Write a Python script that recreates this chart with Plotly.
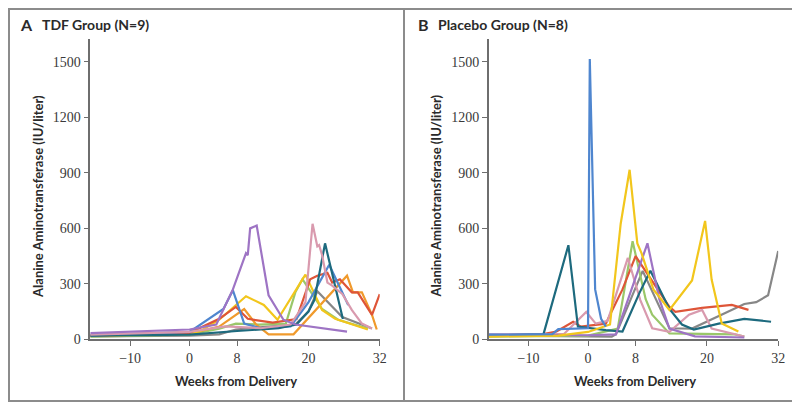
import plotly.graph_objects as go

W, H = 800, 405

# ---------------- data: TDF group (panel A) ----------------
tdf_purple_w = [-16.7, -8, 0, 4.5, 7.3, 9.5, 9.8, 10.2, 11.3, 13.3, 15.8, 17.8, 26.5]
tdf_purple_v = [33, 42, 53, 80, 270, 466, 455, 600, 615, 238, 106, 80, 42]
tdf_pink_w = [-16.7, 0, 6, 12, 17, 19.5, 20.7, 21.5, 21.8, 22.3, 23.2, 24, 25.7, 27.3, 29, 30.7]
tdf_pink_v = [25, 40, 70, 60, 80, 200, 625, 503, 510, 456, 307, 290, 245, 159, 85, 58]
tdf_teal_w = [-16.7, 0, 8, 15, 18, 20, 21, 22.8, 25.8]
tdf_teal_v = [20, 25, 45, 60, 80, 150, 212, 519, 110]
tdf_blue_w = [-16.7, 0, 5.7, 7.3, 9.2, 12, 17, 20, 23.5, 26.7]
tdf_blue_v = [20, 40, 164, 265, 85, 60, 70, 200, 403, 186]
tdf_red_w = [-16.7, 0, 5, 7.8, 9.8, 14, 18, 20.3, 21.5, 23.2, 24, 25.3, 27.3, 28.3, 30.7, 32]
tdf_red_v = [20, 35, 111, 175, 111, 90, 110, 325, 344, 360, 307, 325, 254, 254, 132, 244]
tdf_yellow_w = [-16.7, 0, 1.7, 5, 9.5, 12.5, 14.8, 17.3, 19.5, 22.3, 24.5, 30]
tdf_yellow_v = [20, 30, 42, 106, 233, 186, 106, 238, 350, 159, 111, 53]
tdf_orange_w = [-16.7, 0, 5, 9.2, 11.2, 13.3, 17.5, 26.5, 27.5, 29, 30.7, 31.5]
tdf_orange_v = [18, 30, 69, 164, 80, 27, 27, 344, 254, 254, 132, 53]
tdf_green_w = [-16.7, 0, 5, 7.8, 11.7, 16.2, 17.8, 19, 22.3, 25, 30]
tdf_green_v = [15, 25, 58, 85, 80, 85, 254, 325, 164, 106, 58]
tdf_grey_w = [-16.7, 0, 5, 7.8, 13.3, 17.8, 20, 21.5, 25.7, 30.7]
tdf_grey_v = [16, 20, 27, 53, 69, 80, 150, 260, 120, 58]

# ---------------- data: Placebo group (panel B) ----------------
pla_blue_w = [-16.7, -6, -5, -1, 0, 0.3, 1.2, 2.2, 3]
pla_blue_v = [25, 28, 55, 60, 60, 1516, 270, 111, 69]
pla_teal_w = [-16.7, -7.5, -3.3, -1.7, 3, 5.8, 8.7, 10.5, 13.7, 15.8, 17.8, 22, 26.3, 30.8]
pla_teal_v = [20, 27, 509, 69, 50, 42, 254, 371, 164, 80, 53, 85, 111, 95]
pla_yellow_w = [-16.7, -5, 0, 3.7, 5.5, 7, 8.3, 9, 11, 13.7, 17.5, 19.7, 20.8, 22.5, 25.3]
pla_yellow_v = [15, 20, 40, 80, 625, 917, 519, 466, 270, 159, 318, 640, 323, 85, 42]
pla_green_w = [-16.7, 0, 5, 7.5, 9.7, 10.8, 13.7, 24.7, 26.3]
pla_green_v = [15, 20, 58, 530, 217, 133, 32, 27, 15]
pla_purple_w = [-16.7, 0, 4.7, 10, 12, 13.7, 18, 26.3]
pla_purple_v = [25, 22, 27, 519, 217, 58, 16, 10]
pla_pink_w = [-16.7, -4, -0.3, 1.3, 3.3, 6.7, 8.8, 10.8, 13.7, 17, 19.2, 20.8, 26.3]
pla_pink_v = [25, 30, 148, 85, 100, 440, 212, 60, 40, 133, 159, 58, 15]
pla_red_w = [-16.7, -8, -5.3, -2.5, -1.2, 1.3, 3, 3.7, 5.8, 8, 11.3, 13.7, 14.7, 19.2, 24.2, 27]
pla_red_v = [20, 25, 42, 95, 69, 80, 85, 133, 270, 450, 292, 175, 148, 170, 186, 159]
pla_grey_w = [-16.7, 0, 4, 4.7, 9.2, 13.7, 17.5, 26.3, 28.3, 30.3, 32]
pla_grey_v = [20, 18, 15, 27, 370, 60, 58, 191, 201, 238, 477]

x_tickvals = [-10, 0, 8, 20, 32]
x_ticktext = ["\u221210", "0", "8", "20", "32"]
y_tickvals = [0, 300, 600, 900, 1200, 1500]

COL = {
    "purple": "#9e74c4",
    "pink": "#d99aae",
    "teal": "#1d6a7e",
    "blue": "#4f86cf",
    "red": "#de5538",
    "yellow": "#f2c61c",
    "orange": "#f09a2c",
    "green": "#9ac76a",
    "grey": "#878787",
}

tdf = [
    ("grey", tdf_grey_w, tdf_grey_v),
    ("green", tdf_green_w, tdf_green_v),
    ("orange", tdf_orange_w, tdf_orange_v),
    ("yellow", tdf_yellow_w, tdf_yellow_v),
    ("red", tdf_red_w, tdf_red_v),
    ("blue", tdf_blue_w, tdf_blue_v),
    ("teal", tdf_teal_w, tdf_teal_v),
    ("pink", tdf_pink_w, tdf_pink_v),
    ("purple", tdf_purple_w, tdf_purple_v),
]
pla = [
    ("grey", pla_grey_w, pla_grey_v),
    ("green", pla_green_w, pla_green_v),
    ("red", pla_red_w, pla_red_v),
    ("pink", pla_pink_w, pla_pink_v),
    ("teal", pla_teal_w, pla_teal_v),
    ("purple", pla_purple_w, pla_purple_v),
    ("yellow", pla_yellow_w, pla_yellow_v),
    ("blue", pla_blue_w, pla_blue_v),
]

fig = go.Figure()
for name, w, v in tdf:
    fig.add_trace(go.Scatter(x=w, y=v, mode="lines", xaxis="x", yaxis="y",
                             line=dict(color=COL[name], width=2.2), showlegend=False,
                             hoverinfo="skip"))
for name, w, v in pla:
    fig.add_trace(go.Scatter(x=w, y=v, mode="lines", xaxis="x2", yaxis="y2",
                             line=dict(color=COL[name], width=2.2), showlegend=False,
                             hoverinfo="skip"))

def px(x):
    return x / W

def py(y):
    return (H - y) / H

tickfont = dict(family="Liberation Serif", size=14, color="#3a3a3a")
axis_common = dict(showgrid=False, zeroline=False, showline=True, linecolor="#6e6e6e",
                   linewidth=1.5, ticks="outside", ticklen=5, tickwidth=1.2,
                   tickcolor="#6e6e6e", tickfont=tickfont, fixedrange=True)

x_range = [-16.7, 32]
y_range = [0, 1622]
ydom = [py(338), py(32)]

fig.update_layout(
    width=W, height=H,
    margin=dict(l=0, r=0, t=0, b=0),
    paper_bgcolor="white", plot_bgcolor="white",
    xaxis=dict(domain=[px(83), px(375)], range=x_range, tickvals=x_tickvals,
               ticktext=x_ticktext, anchor="y", **axis_common),
    yaxis=dict(domain=ydom, range=y_range, tickvals=y_tickvals, anchor="x", **axis_common),
    xaxis2=dict(domain=[px(485), px(777)], range=x_range, tickvals=x_tickvals,
                ticktext=x_ticktext, anchor="y2", **axis_common),
    yaxis2=dict(domain=ydom, range=y_range, tickvals=y_tickvals, anchor="x2", **axis_common),
)

border = "#8c8c8c"
fig.add_shape(type="rect", xref="paper", yref="paper", x0=px(1), x1=px(798.5),
              y0=py(401), y1=py(1), line=dict(color=border, width=2))
fig.add_shape(type="line", xref="paper", yref="paper", x0=px(399.5), x1=px(399.5),
              y0=py(401), y1=py(1), line=dict(color=border, width=2))

title_font = dict(family="Lato", size=14, color="#2a2a2a")
label_font = dict(family="Lato", size=13, color="#2a2a2a")
ann = [
    dict(x=px(10), y=py(17), text="<b>A</b>", font=dict(family="Lato", size=16, color="#2a2a2a")),
    dict(x=px(32), y=py(17), text="<b>TDF Group (N=9)</b>", font=title_font),
    dict(x=px(412), y=py(17), text="<b>B</b>", font=dict(family="Lato", size=16, color="#2a2a2a")),
    dict(x=px(432), y=py(17), text="<b>Placebo Group (N=8)</b>", font=title_font),
]
for a in ann:
    fig.add_annotation(xref="paper", yref="paper", xanchor="left", yanchor="middle",
                       showarrow=False, **a)

for cx in (230, 633):
    fig.add_annotation(xref="paper", yref="paper", x=px(cx), y=py(381), text="<b>Weeks from Delivery</b>",
                       xanchor="center", yanchor="middle", showarrow=False, font=label_font)
for cx in (30, 432):
    fig.add_annotation(xref="paper", yref="paper", x=px(cx), y=py(192),
                       text="<b>Alanine Aminotransferase (IU/liter)</b>", textangle=-90,
                       xanchor="center", yanchor="middle", showarrow=False, font=label_font)

fig.write_html("out.html")
